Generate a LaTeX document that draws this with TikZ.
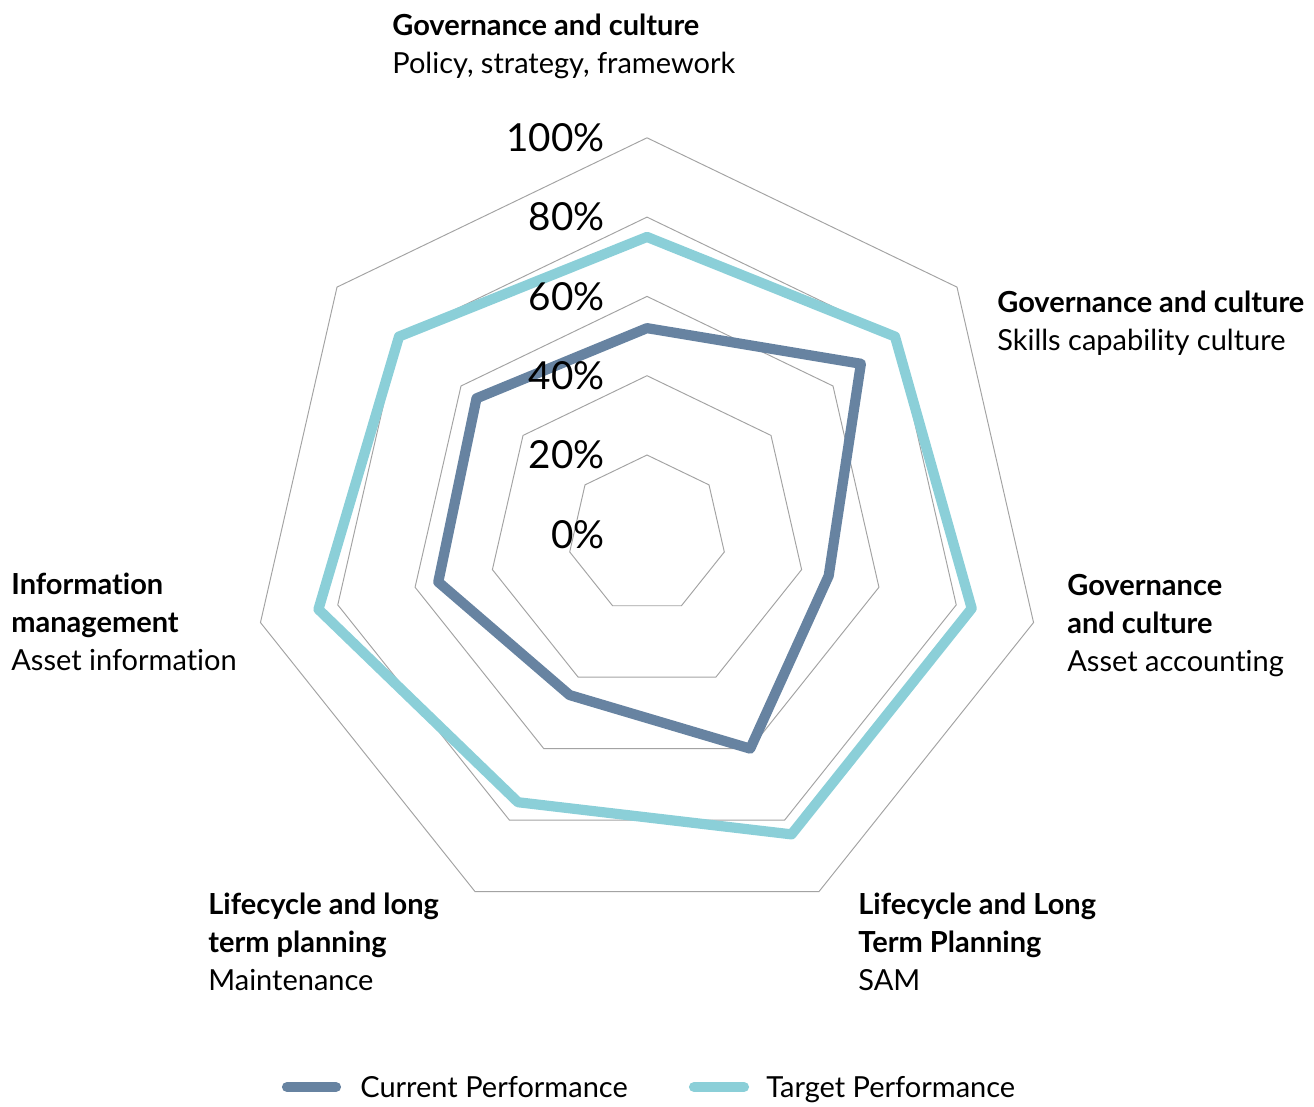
\documentclass[tikz,border=0pt]{standalone}
\usepackage{fontspec}
\setmainfont[Ligatures=NoCommon]{Lato}
\usetikzlibrary{positioning}

\definecolor{curcol}{HTML}{6783A1}
\definecolor{tgtcol}{HTML}{8BCFD8}
\definecolor{gridcol}{HTML}{A3A3A3}

\begin{document}
\begin{tikzpicture}[x=0.02cm, y=-0.02cm,
    ring/.style={draw=gridcol, line width=0.55pt},
    current/.style={draw=curcol, line width=5.8pt, line join=round, line cap=round},
    target/.style={draw=tgtcol, line width=5.8pt, line join=round, line cap=round},
    axislabel/.style={align=left, anchor=north west, inner sep=0pt, font=\fontsize{16.5}{21.5}\selectfont},
    pct/.style={anchor=east, inner sep=0pt, font=\fontsize{22}{26}\selectfont},
    legendtext/.style={anchor=west, inner sep=0pt, text depth=0pt, font=\fontsize{16.5}{20}\selectfont}]

        \useasboundingbox (0,0) rectangle (1314,1106);

        % Grid and data
        \begin{scope}[shift={(647,534.3)}, x=0.02cm, y=0.02cm]
            \foreach \lvl in {1,...,5}
                \draw[ring] ({90}:{\lvl*79.3}) \foreach \k in {1,...,6} { -- ({90-\k*360/7}:{\lvl*79.3}) } -- cycle;

            \foreach \v [count=\k from 0] in {75,80,84,84,75,85,80}
                \coordinate (t\k) at ({90-\k*360/7}:{\v*3.965});
            \foreach \v [count=\k from 0] in {52,69,47,60,45,54,55}
                \coordinate (c\k) at ({90-\k*360/7}:{\v*3.965});

            \draw[target] (t0) -- (t1) -- (t2) -- (t3) -- (t4) -- (t5) -- (t6) -- cycle;
            \draw[current] (c0) -- (c1) -- (c2) -- (c3) -- (c4) -- (c5) -- (c6) -- cycle;
        \end{scope}

        % Scale
        \foreach \p [count=\i from 0] in {0,20,...,100}
            \node[pct] (p\p) at (605, {534.3-\i*79.3}) {\p\%};

        % Axis labels
        \node[axislabel] (policy) at (392,14) {\textbf{Governance and culture}\\Policy, strategy, framework};
        \node[axislabel] (skills) at (997,291) {\textbf{Governance and culture}\\Skills capability culture};
        \node[axislabel] (accounting) at (1067,574) {\textbf{Governance}\\\textbf{and culture}\\Asset accounting};
        \node[axislabel] (sam) at (858,893) {\textbf{Lifecycle and Long}\\\textbf{Term Planning}\\SAM};
        \node[axislabel] (maintenance) at (208,893) {\textbf{Lifecycle and long}\\\textbf{term planning}\\Maintenance};
        \node[axislabel] (information) at (11,573) {\textbf{Information}\\\textbf{management}\\Asset information};

        % Legend
        \coordinate (curA) at (287,1087);
        \coordinate (curB) at (336,1087);
        \coordinate (tgtA) at (694,1087);
        \coordinate (tgtB) at (744,1087);
        \draw[current] (curA) -- (curB);
        \draw[target] (tgtA) -- (tgtB);
        \node[legendtext, right=0.48cm of curB] (curtext) {Current Performance};
        \node[legendtext, right=0.44cm of tgtB] (tgttext) {Target Performance};

\end{tikzpicture}
\end{document}
